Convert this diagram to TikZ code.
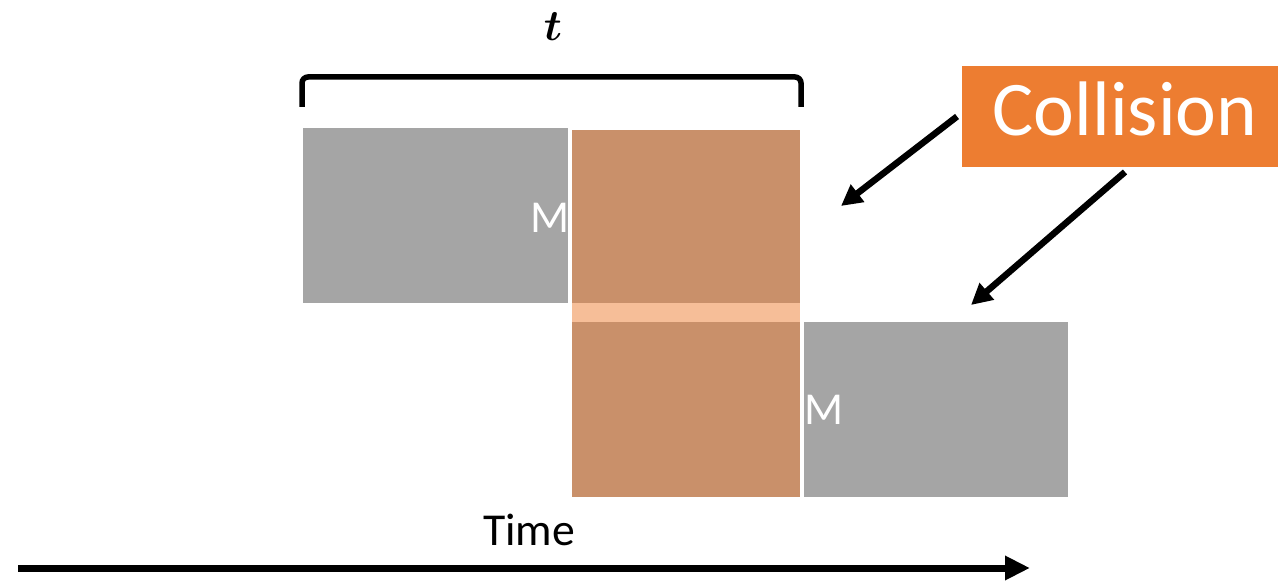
\documentclass[tikz,border=0pt]{standalone}
\usepackage{amsmath}
\usepackage{fontspec}
\setmainfont{Carlito}
\usetikzlibrary{positioning, arrows.meta, calc}
\definecolor{slotgray}{HTML}{A5A5A5}
\definecolor{hitorange}{HTML}{ED7D31}

\begin{document}
\begin{tikzpicture}[x=0.02cm, y=-0.02cm, >=Triangle,
        every node/.style={inner sep=0pt, outer sep=0pt},
        slot/.style={rectangle, fill=slotgray, anchor=north west, minimum height=3.5cm},
        mlabel/.style={text=white, font=\fontsize{26}{30}\selectfont},
        hit/.style={-{Triangle[length=0.42cm, width=0.42cm]}, line width=0.13cm}]
      \useasboundingbox (0,0) rectangle (1278,587);

      % Frames on the two channels
      \node[slot, minimum width=5.3cm] (msgA) at (303,128) {};
      \node[slot, minimum width=4.56cm, minimum height=3.46cm] (ovA) at (572,130) {};
      \node[slot, minimum width=4.56cm] (ovB) at (572,322) {};
      \node[slot, minimum width=5.28cm] (msgB) at (804,322) {};

      % Overlap window (half transparent)
      \fill[hitorange, fill opacity=0.5] (ovA.north west) rectangle (ovB.south east);

      \node[mlabel, anchor=east] (mA) at ([xshift=0.04cm, yshift=-0.04cm]msgA.east) {M};
      \node[mlabel, anchor=west] (mB) at (msgB.west) {M};

      % Vulnerable period
      \draw[line width=0.11cm, rounded corners=0.12cm] (302,107) -- (302,77) -- (801,77) -- (801,107);
      \node[font=\fontsize{28}{32}\selectfont] (tlen) at (553,27) {$\boldsymbol{t}$};

      % Collision label
      \node[rectangle, fill=hitorange, text=white, minimum width=6.52cm, minimum height=2.02cm,
        text height=1.08cm, text depth=0.3cm, font=\fontsize{44}{50}\selectfont] (coll) at (1125,116.5) {Collision};
      \coordinate (hitA) at (841,206);
      \coordinate (hitB) at (971,305);
      \draw[hit] ([xshift=-0.1cm]coll.west) -- (hitA);
      \draw[hit] ([yshift=-0.1cm]coll.south) -- (hitB);

      % Time axis
      \coordinate (t0) at (18,568);
      \coordinate (t1) at (1030,568);
      \draw[-{Triangle[length=0.5cm, width=0.46cm]}, line width=0.14cm] (t0) -- (t1);
      \node[font=\fontsize{26}{30}\selectfont] (time) at (529,530) {Time};
    \end{tikzpicture}
\end{document}
